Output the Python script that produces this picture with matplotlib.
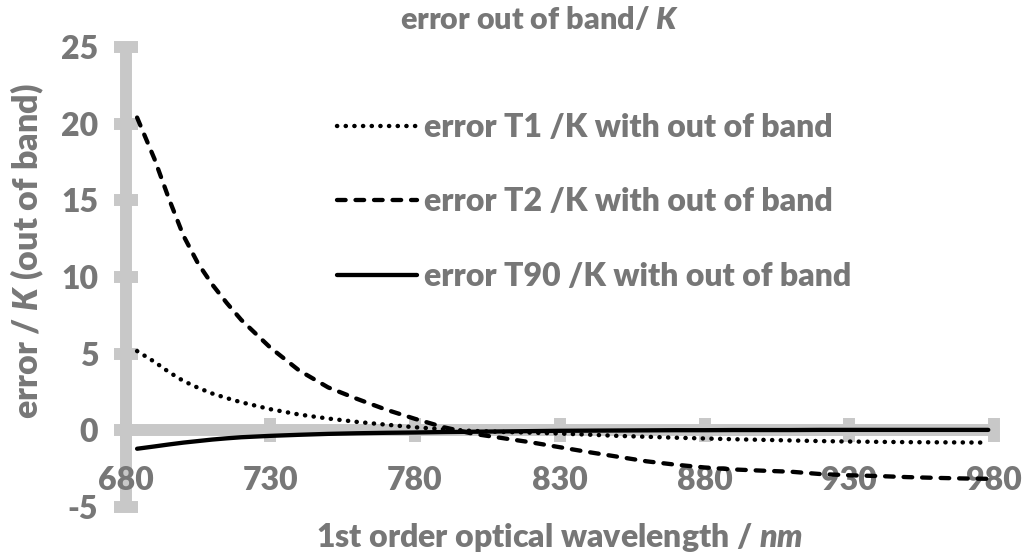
import matplotlib
matplotlib.use("Agg")
import matplotlib.pyplot as plt

# ---- data ----
wavelength = [684, 690, 695, 700, 705, 710, 715, 720, 730, 740, 750, 760, 770, 780,
              790, 800, 810, 820, 830, 840, 850, 860, 870, 880, 890, 900, 910, 920,
              930, 940, 950, 960, 970, 978]
err_t1 = [5.17, 4.47, 3.8, 3.22, 2.78, 2.4, 2.1, 1.83, 1.38, 1.03, 0.77, 0.55, 0.37, 0.2,
          0.07, -0.04, -0.1, -0.15, -0.21, -0.28, -0.36, -0.42, -0.48, -0.53, -0.58, -0.62, -0.66, -0.7,
          -0.73, -0.75, -0.77, -0.78, -0.79, -0.8]
err_t2 = [20.4, 17.7, 15.1, 12.7, 10.9, 9.5, 8.3, 7.2, 5.4, 3.9, 2.8, 2.05, 1.35, 0.75,
          0.2, -0.22, -0.5, -0.78, -1.1, -1.42, -1.72, -2.02, -2.24, -2.42, -2.55, -2.63, -2.7, -2.85,
          -2.93, -2.98, -3.05, -3.1, -3.14, -3.16]
err_t90 = [-1.2, -1.05, -0.92, -0.8, -0.7, -0.6, -0.52, -0.45, -0.36, -0.29, -0.23, -0.19, -0.16, -0.14,
           -0.11, -0.09, -0.07, -0.05, -0.03, -0.02, -0.01, 0.0, 0.01, 0.01, 0.02, 0.02, 0.02, 0.03,
           0.03, 0.03, 0.03, 0.03, 0.03, 0.03]
series_labels = ["error T1 /K with out of band",
                 "error T2 /K with out of band",
                 "error T90 /K with out of band"]
x_ticks = [680, 730, 780, 830, 880, 930, 980]
y_ticks = [-5, 0, 5, 10, 15, 20, 25]
title = "error out of band/ $\\mathit{K}$"
xlabel = "1st order optical wavelength / $\\mathit{nm}$"
ylabel = "error / $\\mathit{K}$ (out of band)"

# ---- style ----
FONT = 'Lato'
W = 'heavy'
plt.rcParams['font.family'] = [FONT, 'DejaVu Sans']
plt.rcParams['font.weight'] = W
plt.rcParams['mathtext.fontset'] = 'custom'
plt.rcParams['mathtext.it'] = FONT + ':heavy:italic'
plt.rcParams['mathtext.rm'] = FONT + ':heavy'
TXT = '#777777'
AX = '#c8c8c8'
FS = 23

fig = plt.figure(figsize=(10.33, 5.59), dpi=100)
ax = fig.add_axes([0.1215, 0.0930, 0.8408, 0.8229])
ax.set_xlim(680, 980)
ax.set_ylim(-5, 25)

ax.plot(wavelength, err_t1, color='black', lw=3.2, linestyle=(0, (0.05, 1.9)),
        dash_capstyle='round', zorder=3, label=series_labels[0])
ax.plot(wavelength, err_t2, color='black', lw=3.1, linestyle=(0, (2.0, 2.3)),
        dash_capstyle='round', zorder=3, label=series_labels[1])
ax.plot(wavelength, err_t90, color='black', lw=3.1, linestyle='-',
        solid_capstyle='round', zorder=3, label=series_labels[2])

for s in ['top', 'right']:
    ax.spines[s].set_visible(False)
ax.spines['left'].set_position(('data', 680))
ax.spines['bottom'].set_position(('data', 0))
for s in ['left', 'bottom']:
    ax.spines[s].set_color(AX)
    ax.spines[s].set_linewidth(8.6)
    ax.spines[s].set_capstyle('butt')
    ax.spines[s].set_zorder(2)
ax.xaxis.set_zorder(2.8)
ax.yaxis.set_zorder(2.8)

ax.set_xticks(x_ticks)
ax.set_yticks(y_ticks)
ax.set_xticklabels([str(v) for v in x_ticks])
ax.set_yticklabels([str(v) for v in y_ticks])
ax.tick_params(axis='both', direction='inout', length=17.3, width=8.6, color=AX,
               labelcolor=TXT, labelsize=FS)
ax.tick_params(axis='x', pad=17)
ax.tick_params(axis='y', pad=11)
for lab in ax.get_xticklabels() + ax.get_yticklabels():
    lab.set_fontweight(W)

fig.text(540 / 1033, 1 - 20 / 559, title, ha='center', va='center', color=TXT,
         fontsize=22, fontweight=W)
fig.text(560 / 1033, 1 - 537 / 559, xlabel, ha='center', va='center', color=TXT,
         fontsize=FS, fontweight=W)
fig.text(27 / 1033, 1 - 251 / 559, ylabel, ha='center', va='center', color=TXT,
         fontsize=24.5, fontweight=W, rotation=90)

leg = ax.legend(loc='upper left', bbox_to_anchor=(337 / 1033, 1 - 113 / 559),
                bbox_transform=fig.transFigure, frameon=False, fontsize=FS,
                handlelength=2.5, handletextpad=0.22, labelspacing=1.42,
                borderpad=0, borderaxespad=0)
for t in leg.get_texts():
    t.set_color(TXT)
    t.set_fontweight(W)

fig.savefig('out.png', dpi=100)
